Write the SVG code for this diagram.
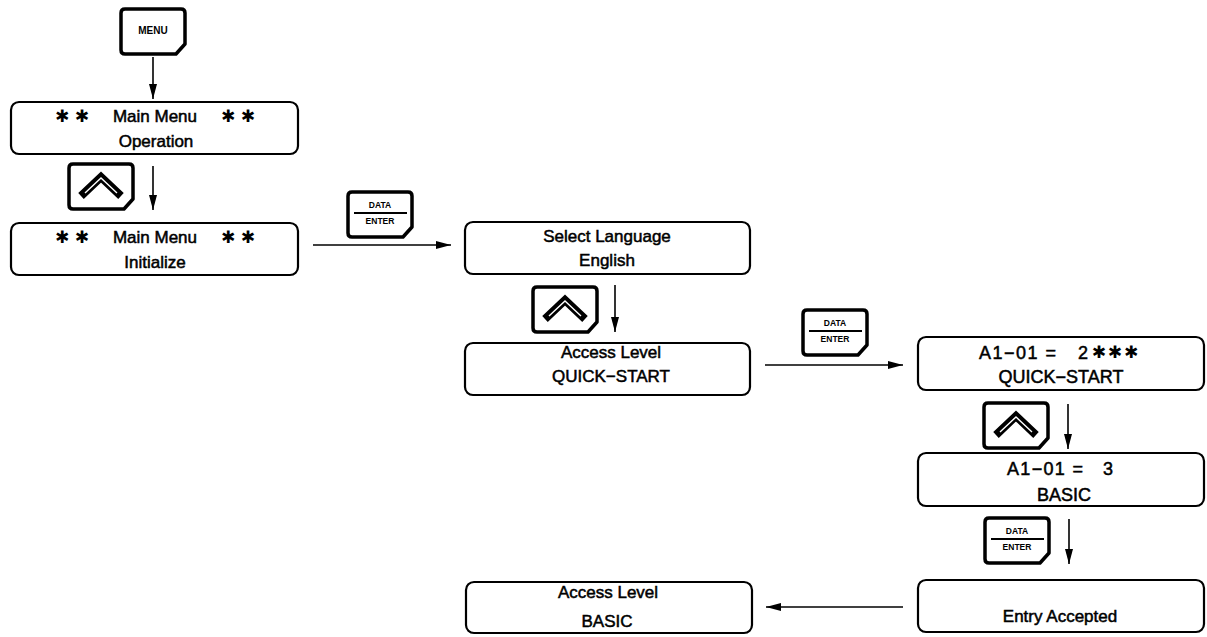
<svg xmlns="http://www.w3.org/2000/svg" width="1207" height="637" viewBox="0 0 1207 637">
<style>
.box{fill:#fff;stroke:#000;stroke-width:2.2}
.key{fill:#fff;stroke:#000;stroke-width:3.5;stroke-linejoin:round}
.t{font-family:"Liberation Sans",Arial,sans-serif;font-size:17px;fill:#000;stroke:#000;stroke-width:0.5;text-anchor:middle}
.s{font-family:"DejaVu Sans",sans-serif;font-size:17px;fill:#000;text-anchor:middle}
.k{font-family:"Liberation Sans",Arial,sans-serif;font-weight:bold;font-size:8.5px;fill:#000;text-anchor:middle}
.c{fill:none;stroke:#000;stroke-width:1.6}
</style>
<defs>
<marker id="ah" markerUnits="userSpaceOnUse" markerWidth="18" markerHeight="10" refX="15" refY="4" orient="auto">
<path d="M0,0 L15,4 L0,8 Z" fill="#000"/>
</marker>
<path id="keyshape" class="key" d="M4,0 H60 Q64,0 64,4 V35 L55,45 H4 Q0,45 0,41 V4 Q0,0 4,0 Z"/>
<g id="upkey">
<use href="#keyshape"/>
<polyline points="12,32 32,13 52,32" fill="none" stroke="#000" stroke-width="8" stroke-linejoin="miter"/>
<polyline points="16,29 32,14 48,29" fill="none" stroke="#fff" stroke-width="1.4"/>
</g>
<g id="datakey">
<use href="#keyshape"/>
<text class="k" x="32" y="16">DATA</text>
<line x1="6" y1="21" x2="59" y2="21" stroke="#000" stroke-width="2"/>
<text class="k" x="32" y="32">ENTER</text>
</g>
</defs>

<g id="connectors">
<line class="c" x1="153" y1="57" x2="153" y2="99" marker-end="url(#ah)"/>
<line class="c" x1="153" y1="166" x2="153" y2="210" marker-end="url(#ah)"/>
<line class="c" x1="313" y1="245" x2="451" y2="245" marker-end="url(#ah)"/>
<line class="c" x1="615" y1="285" x2="615" y2="332" marker-end="url(#ah)"/>
<line class="c" x1="765" y1="365" x2="903" y2="365" marker-end="url(#ah)"/>
<line class="c" x1="1068" y1="404" x2="1068" y2="449" marker-end="url(#ah)"/>
<line class="c" x1="1069" y1="519" x2="1069" y2="564" marker-end="url(#ah)"/>
<line class="c" x1="903" y1="607" x2="766" y2="607" marker-end="url(#ah)"/>
</g>

<g id="key-menu" transform="translate(121,9)">
<use href="#keyshape"/>
<text class="k" x="32" y="25" style="font-size:10px">MENU</text>
</g>
<g id="key-up1" transform="translate(69,164)"><use href="#upkey"/></g>
<g id="key-data1" transform="translate(348,192)"><use href="#datakey"/></g>
<g id="key-up2" transform="translate(533,287)"><use href="#upkey"/></g>
<g id="key-data2" transform="translate(803,310)"><use href="#datakey"/></g>
<g id="key-up3" transform="translate(984,403)"><use href="#upkey"/></g>
<g id="key-data3" transform="translate(985,518)"><use href="#datakey"/></g>

<g id="box-main-operation">
<rect class="box" x="11" y="102" width="287" height="52" rx="8"/>
<text class="s" x="72" y="122">✱ ✱</text>
<text class="t" x="155" y="122">Main Menu</text>
<text class="s" x="238" y="122">✱ ✱</text>
<text class="t" x="156" y="147">Operation</text>
</g>
<g id="box-main-initialize">
<rect class="box" x="11" y="223" width="287" height="52" rx="8"/>
<text class="s" x="72" y="243">✱ ✱</text>
<text class="t" x="155" y="243">Main Menu</text>
<text class="s" x="238" y="243">✱ ✱</text>
<text class="t" x="155" y="268">Initialize</text>
</g>
<g id="box-select-language">
<rect class="box" x="465" y="222" width="285" height="52" rx="8"/>
<text class="t" x="607" y="242">Select Language</text>
<text class="t" x="607" y="266">English</text>
</g>
<g id="box-access-quick">
<rect class="box" x="465" y="343" width="285" height="52" rx="8"/>
<text class="t" x="611" y="358">Access Level</text>
<text class="t" x="611" y="382">QUICK−START</text>
</g>
<g id="box-a101-2">
<rect class="box" x="918" y="337" width="286" height="53" rx="8"/>
<text class="t" x="979" y="359" style="text-anchor:start;font-size:18px" textLength="77" lengthAdjust="spacing">A1−01 =</text>
<text class="t" x="1078" y="359" style="text-anchor:start;font-size:18px">2</text>
<text class="s" x="1116" y="358" letter-spacing="2">✱✱✱</text>
<text class="t" x="1061" y="383" style="font-size:18px">QUICK−START</text>
</g>
<g id="box-a101-3">
<rect class="box" x="918" y="453" width="286" height="53" rx="8"/>
<text class="t" x="1007" y="475" style="text-anchor:start;font-size:18px" textLength="76" lengthAdjust="spacing">A1−01 =</text>
<text class="t" x="1103" y="475" style="text-anchor:start;font-size:18px">3</text>
<text class="t" x="1064" y="501" style="font-size:18px">BASIC</text>
</g>
<g id="box-entry-accepted">
<rect class="box" x="918" y="580" width="286" height="52" rx="8"/>
<text class="t" x="1060" y="622">Entry Accepted</text>
</g>
<g id="box-access-basic">
<rect class="box" x="466" y="582" width="286" height="51" rx="8"/>
<text class="t" x="608" y="598">Access Level</text>
<text class="t" x="607" y="627">BASIC</text>
</g>
</svg>
